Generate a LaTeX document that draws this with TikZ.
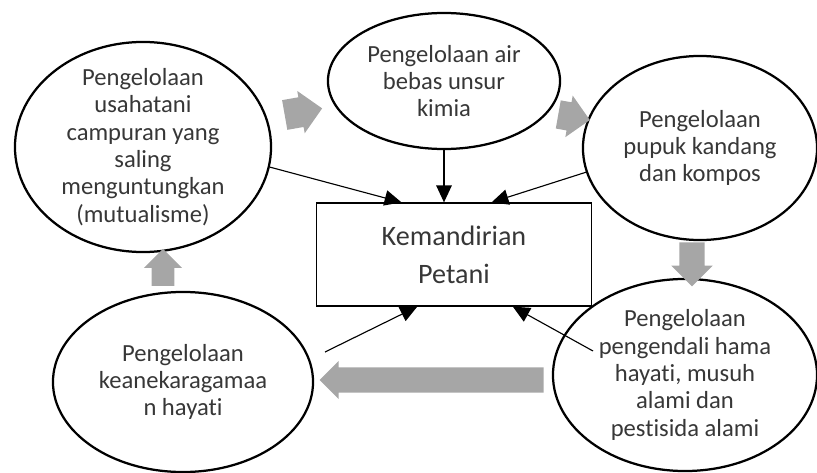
\documentclass[tikz,border=0pt]{standalone}
\usepackage{fontspec}
\setmainfont{Carlito}[Ligatures=NoCommon]
\usetikzlibrary{shapes.geometric,shapes.arrows,arrows.meta,calc}
\definecolor{flowgray}{RGB}{166,166,166}
\definecolor{inkgray}{RGB}{55,55,55}

\begin{document}
\begin{tikzpicture}[x=0.025cm,y=-0.025cm,
  blob/.style={ellipse,draw,line width=1.6pt,inner sep=0pt},
  blobtext/.style={align=center,text=inkgray,font=\fontsize{17.5}{19.5}\selectfont},
  link/.style={-{Triangle[length=12pt,width=11pt]},line width=0.8pt},
  flow/.style={single arrow,fill=flowgray,inner xsep=0pt,single arrow head indent=0pt}]
\useasboundingbox (0,0) rectangle (817,473);
% centre box
\node[draw,line width=0.9pt,minimum width=6.875cm,minimum height=2.575cm,
  align=center,text=inkgray,font=\fontsize{20}{27}\selectfont] (box) at (454,254.5)
  {Kemandirian\\Petani};
% the five ellipses
\node[blob,minimum width=6.4cm,minimum height=5.25cm,
  label={[blobtext]center:Pengelolaan\\usahatani\\campuran yang\\saling\\menguntungkan\\(mutualisme)}]
  (tl) at (143,147) {};
\node[blob,minimum width=5.8cm,minimum height=3.4cm,
  label={[blobtext]center:Pengelolaan air\\bebas unsur\\kimia}]
  (tm) at (444,81) {};
\node[blob,minimum width=5.85cm,minimum height=4.6cm,
  label={[blobtext]center:Pengelolaan\\pupuk kandang\\dan kompos}]
  (tr) at (700,148) {};
\node[blob,minimum width=6.5cm,minimum height=4.5cm,
  label={[blobtext]center:Pengelolaan\\keanekaragamaa\\n hayati}]
  (bl) at (183,382) {};
\node[blob,minimum width=6.6cm,minimum height=4.8cm,
  label={[blobtext]center:Pengelolaan\\pengendali hama\\hayati, musuh\\alami dan\\pestisida alami}]
  (br) at (685,375) {};
% gray flow arrows
\node[flow,minimum height=0.95cm,inner ysep=0.37cm,single arrow head extend=0.16cm,rotate=10] (f1) at (296,113) {};
\node[flow,minimum height=0.8cm,inner ysep=0.35cm,single arrow head extend=0.17cm,rotate=-10] (f2) at (567,116) {};
\node[flow,minimum height=1.1cm,inner ysep=0.31cm,single arrow head extend=0.2cm,rotate=-90] (f3) at (692,258) {};
\node[flow,minimum height=5.6cm,inner ysep=0.31cm,single arrow head extend=0.16cm,rotate=180] (f4) at (438,380) {};
\node[flow,minimum height=0.925cm,inner ysep=0.28cm,single arrow head extend=0.19cm,rotate=90] (f5) at (163,273) {};
% links into the box
\coordinate (blout) at (325,352);
\coordinate (brin) at (593,351);
\draw[link] (tl.-9) -- ($(box.north west)!0.31!(box.north east)$);
\draw[link] (tm.south) -- (tm.south |- box.north);
\draw[link] (tr.192) -- ($(box.north west)!0.636!(box.north east)$);
\draw[link] (blout) -- ($(box.south west)!0.367!(box.south east)$);
\draw[link] (brin) -- ($(box.south west)!0.713!(box.south east)$);
\end{tikzpicture}
\end{document}
